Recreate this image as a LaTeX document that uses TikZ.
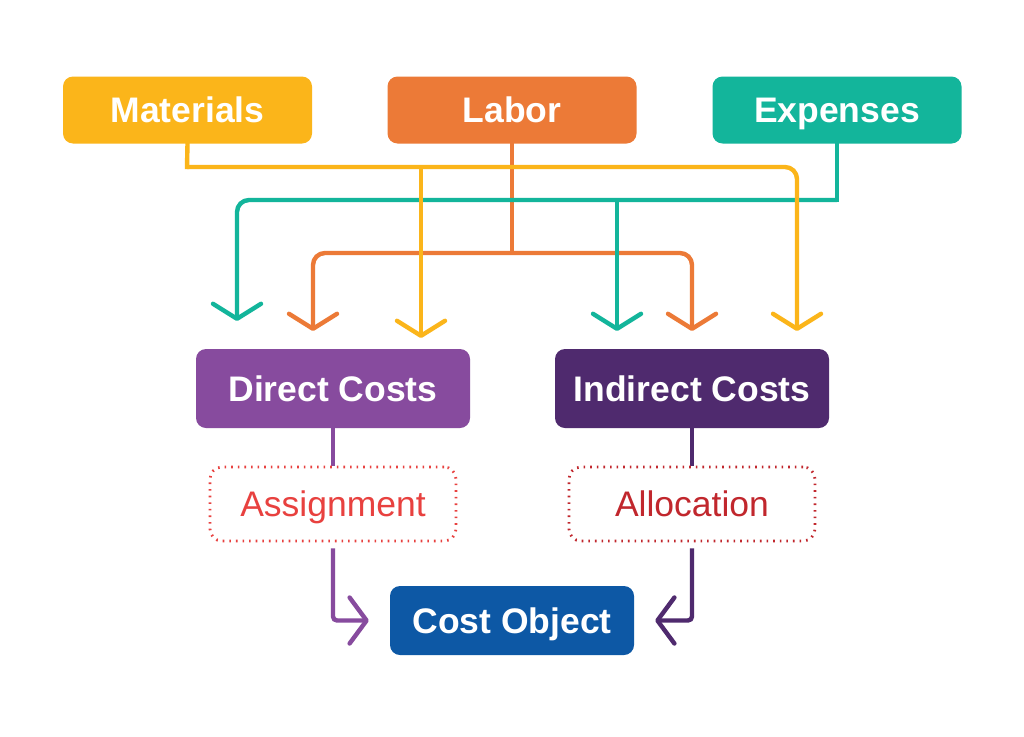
\documentclass[tikz,border=0pt]{standalone}
\usepackage{fontspec}
\setmainfont{Liberation Sans}
\usetikzlibrary{arrows.meta,calc}
\definecolor{cMat}{HTML}{FBB51A}
\definecolor{cLab}{HTML}{EC7A37}
\definecolor{cExp}{HTML}{13B59B}
\definecolor{cDir}{HTML}{874B9E}
\definecolor{cInd}{HTML}{4F2A6E}
\definecolor{cObj}{HTML}{0D58A5}
\definecolor{cAsg}{HTML}{E8413F}
\definecolor{cAlc}{HTML}{C1272D}
\pgfdeclarelayer{bg}
\pgfsetlayers{bg,main}
\tikzset{
  box/.style={rectangle, rounded corners=10pt, inner sep=0pt, text=white,
    font=\fontsize{35.5}{40}\selectfont\bfseries, text height=25.4pt, text depth=0pt},
  topbox/.style={box, minimum width=249pt, minimum height=67pt},
  midbox/.style={box, minimum width=274pt, minimum height=79pt},
  objbox/.style={box, minimum width=244pt, minimum height=69pt},
  dotbox/.style={rectangle, rounded corners=12pt, inner sep=0pt,
    minimum width=246pt, minimum height=74pt,
    line width=2.8pt, dash pattern=on 1.6pt off 5pt,
    font=\fontsize{35.5}{40}\selectfont, text height=25.4pt, text depth=0pt},
  conn/.style={line width=4.4pt, rounded corners=12pt},
  trunk/.style={line width=4.4pt, line cap=rect},
  tipdown/.style={-{Straight Barb[length=15pt,width=48pt,round]}},
  tipboth/.style={{Straight Barb[length=15pt,width=48pt,round]}-{Straight Barb[length=15pt,width=48pt,round]}},
  tipside/.style={-{Straight Barb[length=17pt,width=46pt,round]}},
}
\begin{document}
\begin{tikzpicture}[x=1pt,y=-1pt]
\useasboundingbox (0,0) rectangle (1024,736);

% nodes
\node[topbox, fill=cMat] (mat) at (187.5,110) {Materials};
\node[topbox, fill=cLab] (lab) at (512,110) {Labor};
\node[topbox, fill=cExp] (exp) at (837,110) {Expenses};
\node[midbox, fill=cDir] (dir) at (333,388.5) {Direct Costs};
\node[midbox, fill=cInd] (ind) at (692,388.5) {Indirect Costs};
\node[dotbox, draw=cAsg, text=cAsg] (asg) at (333,504) {Assignment};
\node[dotbox, draw=cAlc, text=cAlc] (alc) at (692,504) {Allocation};
\node[objbox, fill=cObj] (obj) at (512,620.5) {Cost Object};

% junctions and arrow tips
\coordinate (mj) at (187,167);
\coordinate (ym1) at (421,338);
\coordinate (ym2) at (797,331);
\coordinate (lj) at (512,253);
\coordinate (ol) at (313,331);
\coordinate (or) at (692,331);
\coordinate (ej) at (837,200);
\coordinate (tl) at (237,321);
\coordinate (tr) at (617,331);
\coordinate (dt) at ($(obj.west)+(-21,0)$);
\coordinate (it) at ($(obj.east)+(21,0)$);

\begin{pgfonlayer}{bg}
\fill[white] (0,0) rectangle (1024,736);
% labor (orange)
\draw[trunk, cLab] (lab.south) -- (lj);
\draw[conn, tipboth, cLab] (ol) |- (lj) -| (or);
% expenses (teal)
\draw[trunk, cExp] (exp.south) -- (ej);
\draw[conn, tipdown, cExp] (ej) -| (tl);
\draw[conn, tipdown, cExp] (ej -| tr) -- (tr);
% materials (yellow)
\draw[trunk, cMat] (mat.south) -- (mj);
\draw[conn, tipdown, cMat] (mj) -| (ym2);
\draw[conn, tipdown, cMat] (mj -| ym1) -- (ym1);
% direct / indirect to cost object
\draw[line width=4.4pt, cDir] (dir.south) -- (asg.north);
\draw[conn, rounded corners=4pt, tipside, cDir] ($(asg.south)+(0,6)$) |- (dt);
\draw[line width=4.4pt, cInd] (ind.south) -- (alc.north);
\draw[conn, rounded corners=4pt, tipside, cInd] ($(alc.south)+(0,6)$) |- (it);
\end{pgfonlayer}
\end{tikzpicture}
\end{document}
